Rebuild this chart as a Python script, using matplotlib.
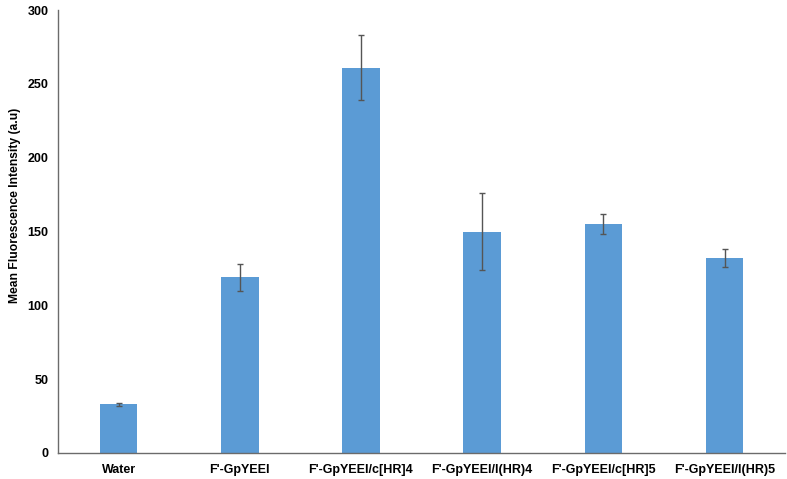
import matplotlib

matplotlib.use("Agg")
import matplotlib.pyplot as plt
import numpy as np

plt.rcParams["font.family"] = ["Liberation Sans", "DejaVu Sans"]

categories = ["Water", "F'-GpYEEI", "F'-GpYEEI/c[HR]4", "F'-GpYEEI/l(HR)4",
              "F'-GpYEEI/c[HR]5", "F'-GpYEEI/l(HR)5"]
means = [33, 119, 261, 150, 155, 132]
errors = [1, 9, 22, 26, 7, 6]

fig = plt.figure(figsize=(7.87, 4.79), dpi=100)
ax = fig.add_axes([0.0737, 0.0543, 0.924, 0.9247])

x = np.arange(len(categories))
ax.bar(x, means, width=0.31, color="#5B9BD5", zorder=2)
ax.errorbar(x, means, yerr=errors, fmt="none", ecolor="#555555",
            elinewidth=1.0, capsize=2, capthick=1.0, zorder=3)

ax.set_xlim(-0.5, len(categories) - 0.5)
ax.set_ylim(0, 300)
ax.set_yticks([0, 50, 100, 150, 200, 250, 300])
ax.set_xticks(x)
ax.set_xticklabels(categories, fontsize=9, fontweight="bold")
for lbl in ax.get_yticklabels():
    lbl.set_fontsize(9)
    lbl.set_fontweight("bold")
ax.tick_params(axis="x", length=0, pad=8)
ax.tick_params(axis="y", length=0, pad=7)
ax.set_ylabel("Mean Fluorescence Intensity (a.u)", fontsize=8.7, fontweight="bold")
ax.yaxis.set_label_coords(-0.051, 0.56)

for side in ["top", "right"]:
    ax.spines[side].set_visible(False)
for side in ["left", "bottom"]:
    ax.spines[side].set_color("#6b6b6b")
    ax.spines[side].set_linewidth(1.0)

plt.savefig("out.png", dpi=100)
plt.close()
